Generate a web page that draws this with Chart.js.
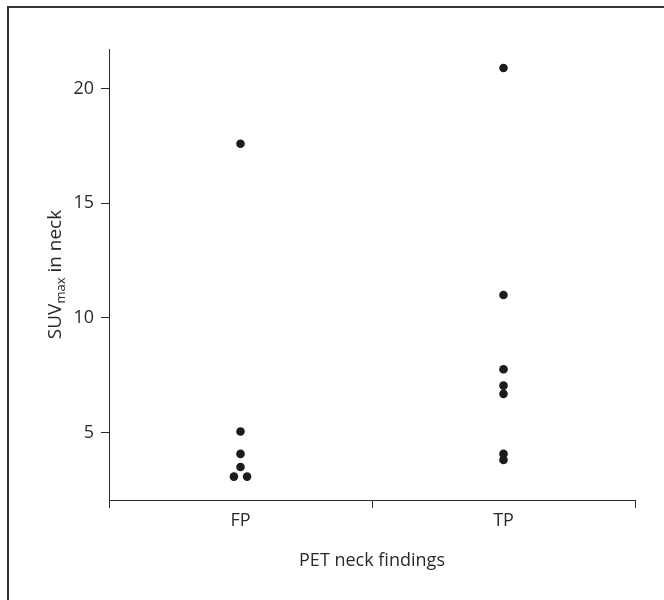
<!DOCTYPE html>
<html>
<head>
<meta charset="utf-8">
<script src="https://cdn.jsdelivr.net/npm/chart.js@4/dist/chart.umd.min.js"></script>
<style>
  html, body { margin: 0; padding: 0; background: #fff; }
  #wrap { width: 664px; height: 600px; }
</style>
</head>
<body>
<div id="wrap"><canvas id="chart"></canvas></div>
<script>
// groups on the x axis
const groups = ['FP', 'TP'];
// SUVmax values
const fpValues = [17.6, 5.05, 4.07, 3.5, 3.08, 3.08];
const fpJitter = [0, 0, 0, 0, -0.025, 0.025];
const tpValues = [20.9, 11.0, 7.76, 7.05, 6.69, 4.07, 3.81];
const tpJitter = [0, 0, 0, 0, 0, 0, 0];
const yTicks = [5, 10, 15, 20];
const yMin = 2.06;
const yMax = 21.73;

const ink = '#2a2a2a';
const font = { family: "'Open Sans', 'Noto Sans', sans-serif", size: 18 };

// frame lines + y title with subscript
const decor = {
  id: 'decor',
  beforeDraw(chart) {
    const c = chart.ctx;
    c.save();
    c.strokeStyle = '#333';
    c.lineWidth = 2;
    c.beginPath();
    c.moveTo(8, chart.height);
    c.lineTo(8, 7);
    c.lineTo(chart.width, 7);
    c.stroke();
    c.restore();
  },
  afterDraw(chart) {
    const c = chart.ctx;
    const area = chart.chartArea;
    const big = "19px 'Open Sans', 'Noto Sans', sans-serif";
    const small = "13px 'Open Sans', 'Noto Sans', sans-serif";
    c.save();
    c.fillStyle = ink;
    c.textBaseline = 'alphabetic';
    c.font = big;
    const w1 = c.measureText('SUV').width;
    const w3 = c.measureText(' in neck').width;
    c.font = small;
    const w2 = c.measureText('max').width;
    const total = w1 + w2 + w3;
    c.translate(61, (area.top + area.bottom) / 2);
    c.rotate(-Math.PI / 2);
    let x = -total / 2;
    c.font = big;
    c.fillText('SUV', x, 0);
    x += w1;
    c.font = small;
    c.fillText('max', x, 4);
    x += w2;
    c.font = big;
    c.fillText(' in neck', x, 0);
    c.restore();
  }
};

const toPoints = (vals, jit, idx) => vals.map((v, i) => ({ x: idx + jit[i], y: v }));

new Chart(document.getElementById('chart'), {
  type: 'scatter',
  data: {
    labels: groups,
    datasets: [
      {
        label: groups[0],
        data: toPoints(fpValues, fpJitter, 0),
        xAxisID: 'xv',
        backgroundColor: '#1c1c1c',
        borderWidth: 0,
        pointRadius: 4.3
      },
      {
        label: groups[1],
        data: toPoints(tpValues, tpJitter, 1),
        xAxisID: 'xv',
        backgroundColor: '#1c1c1c',
        borderWidth: 0,
        pointRadius: 4.3
      }
    ]
  },
  options: {
    responsive: true,
    maintainAspectRatio: false,
    animation: false,
    layout: { padding: { top: 49, right: 29, left: 0, bottom: 0 } },
    plugins: {
      legend: { display: false },
      tooltip: { enabled: false }
    },
    scales: {
      x: {
        type: 'category',
        labels: groups,
        position: 'bottom',
        offset: true,
        grid: { offset: true, drawOnChartArea: false, drawTicks: true, tickLength: 8, color: ink },
        border: { display: true, color: ink, width: 1 },
        ticks: { font: font, color: ink, padding: 2 },
        title: { display: true, text: 'PET neck findings', font: font, color: ink, padding: { top: 0, bottom: 28 } },
        afterFit: s => { s.height = 100; }
      },
      xv: {
        type: 'linear',
        display: false,
        min: -0.5,
        max: 1.5
      },
      y: {
        type: 'linear',
        min: yMin,
        max: yMax,
        afterBuildTicks: s => { s.ticks = yTicks.map(v => ({ value: v })); },
        grid: { drawOnChartArea: false, drawTicks: true, tickLength: 8, color: ink },
        border: { display: true, color: ink, width: 1 },
        ticks: { font: font, color: ink, padding: 7 },
        afterFit: s => { s.width = 109; }
      }
    }
  },
  plugins: [decor]
});
</script>
</body>
</html>
